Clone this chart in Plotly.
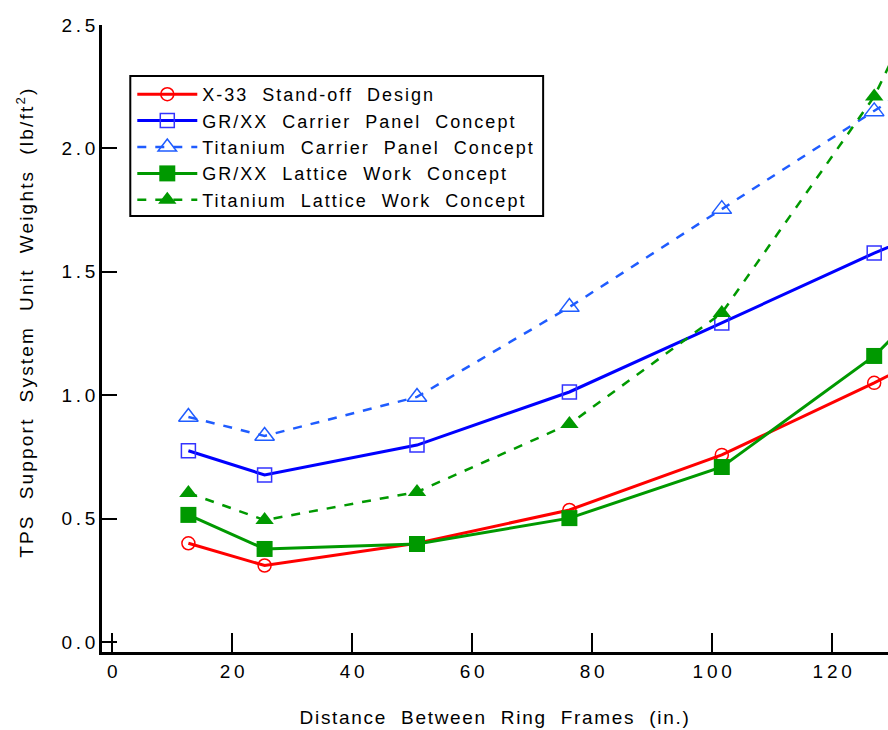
import plotly.graph_objects as go

x_in = [12.7, 25.4, 50.8, 76.2, 101.6, 127.0, 152.4]

x33_standoff = [0.40, 0.31, 0.40, 0.535, 0.758, 1.05, 1.36]
grxx_carrier = [0.775, 0.677, 0.798, 1.013, 1.293, 1.576, 1.83]
ti_carrier = [0.912, 0.835, 0.993, 1.357, 1.754, 2.15, 2.55]
grxx_lattice = [0.515, 0.377, 0.397, 0.502, 0.709, 1.159, 1.78]
ti_lattice = [0.604, 0.494, 0.608, 0.883, 1.333, 2.21, 3.49]

SP = "\u00a0 "
names = [
    SP.join(["X-33", "Stand-off", "Design"]),
    SP.join(["GR/XX", "Carrier", "Panel", "Concept"]),
    SP.join(["Titanium", "Carrier", "Panel", "Concept"]),
    SP.join(["GR/XX", "Lattice", "Work", "Concept"]),
    SP.join(["Titanium", "Lattice", "Work", "Concept"]),
]

x_ticks = [0, 20, 40, 60, 80, 100, 120]
y_ticks = [0.0, 0.5, 1.0, 1.5, 2.0, 2.5]

x_title = SP.join(["Distance", "Between", "Ring", "Frames", "(in.)"])
y_title = SP.join(["TPS", "Support", "System", "Unit", "Weights", "(lb/ft<sup>2</sup>)"])

HS = "\u2009"
def spaced(s):
    return HS.join(list(s))

RED = "#ff0000"
BLUE = "#0000ff"
LBLUE = "#1f5cff"
GREEN = "#009900"

fig = go.Figure()
fig.add_trace(go.Scatter(x=x_in, y=x33_standoff, name=names[0], mode="lines+markers",
                         line=dict(color=RED, width=3),
                         marker=dict(symbol="circle-open", size=13, color=RED, line=dict(width=1.5))))
fig.add_trace(go.Scatter(x=x_in, y=grxx_carrier, name=names[1], mode="lines+markers",
                         line=dict(color=BLUE, width=3),
                         marker=dict(symbol="square-open", size=14, color="#3333ff", line=dict(width=1.5))))
fig.add_trace(go.Scatter(x=x_in, y=ti_carrier, name=names[2], mode="lines+markers",
                         line=dict(color=LBLUE, width=2.5, dash="dash"),
                         marker=dict(symbol="triangle-up-open", size=17, color=LBLUE, line=dict(width=1.5))))
fig.add_trace(go.Scatter(x=x_in, y=grxx_lattice, name=names[3], mode="lines+markers",
                         line=dict(color=GREEN, width=3),
                         marker=dict(symbol="square", size=16, color=GREEN)))
fig.add_trace(go.Scatter(x=x_in, y=ti_lattice, name=names[4], mode="lines+markers",
                         line=dict(color=GREEN, width=2.5, dash="dash"),
                         marker=dict(symbol="triangle-up", size=16, color=GREEN)))

FONT = "Liberation Sans, Arial, sans-serif"

PLOT_L, PLOT_W, PLOT_B, PLOT_H = 101.7, 786.3, 652.0, 627.0
def px_x(p):
    return (p - PLOT_L) / PLOT_W
def px_y(p):
    return (PLOT_B - p) / PLOT_H

# legend frame
fig.add_shape(type="rect", xref="paper", yref="paper",
              x0=px_x(130), x1=px_x(543), y0=px_y(216), y1=px_y(76),
              line=dict(color="black", width=2), fillcolor="white", layer="above")

# y-axis title as a rotated annotation (placed slightly above the axis middle, as in the reference)
fig.add_annotation(text=y_title, xref="paper", yref="paper", x=px_x(25), y=px_y(322),
                   xanchor="center", yanchor="middle", textangle=-90, showarrow=False,
                   font=dict(family=FONT, size=19, color="black"))

fig.update_layout(
    width=888, height=730,
    margin=dict(l=102, r=0, t=25, b=78),
    paper_bgcolor="white", plot_bgcolor="white",
    font=dict(family=FONT, size=19, color="black"),
    showlegend=True,
    legend=dict(x=px_x(130), y=px_y(74), xanchor="left", yanchor="top",
                bgcolor="rgba(0,0,0,0)", bordercolor="rgba(0,0,0,0)", borderwidth=2,
                font=dict(family=FONT, size=18, color="black"),
                tracegroupgap=0, itemwidth=60),
    xaxis=dict(range=[-1.7, 129.3], tickvals=x_ticks, ticktext=[spaced(str(v)) for v in x_ticks],
               showline=True, linecolor="black", linewidth=2.5,
               ticks="inside", ticklen=19, tickwidth=2, tickcolor="black",
               showgrid=False, zeroline=False,
               title=dict(text=x_title, font=dict(size=19), standoff=31),
               tickfont=dict(size=19)),
    yaxis=dict(range=[-0.0405, 2.5], tickvals=y_ticks, ticktext=[spaced(f"{v:.1f}") for v in y_ticks],
               showline=True, linecolor="black", linewidth=2.5,
               ticks="inside", ticklen=15, tickwidth=2, tickcolor="black",
               showgrid=False, zeroline=False,
               tickfont=dict(size=19)),
)

post = (
    "document.body.style.margin='0';document.body.style.overflow='hidden';"
    "var s=document.createElement('style');"
    "s.textContent='.legendtext{letter-spacing:2px}.xtitle{letter-spacing:1.7px}.annotation-text{letter-spacing:2.2px}"
    ".legend .scrollbox,.legend g{clip-path:none !important}';"
    "document.head.appendChild(s);"
)
fig.write_html("out.html", post_script=post, config={"displayModeBar": False})
